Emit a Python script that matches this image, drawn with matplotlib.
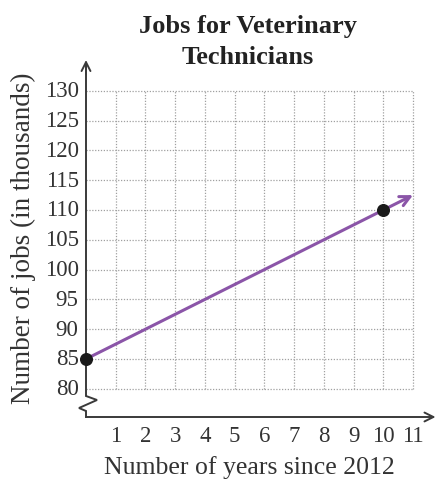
import matplotlib
matplotlib.use("Agg")
import matplotlib.pyplot as plt
import numpy as np

# data
years = [0, 10]
jobs = [85, 110]
line_end_year = 11
slope = (jobs[1] - jobs[0]) / (years[1] - years[0])
x_ticks = list(range(1, 12))
y_ticks = list(range(80, 131, 5))

plt.rcParams["font.family"] = ["Liberation Serif", "DejaVu Serif"]

W, H = 443, 481
fig = plt.figure(figsize=(W / 100, H / 100), dpi=100)
# axes placed in pixel space: x=0 at px 86, y-axis bottom at px 418
left, right, top, bottom = 86, 440, 60, 418
ax = fig.add_axes([left / W, 1 - bottom / H, (right - left) / W, (bottom - top) / H])
px_x = 29.73          # pixels per year
px_y = 29.8 / 5       # pixels per thousand
xmax = (right - left) / px_x
ymin = 85 - (bottom - 360) / px_y
ymax = 85 + (360 - top) / px_y
ax.set_xlim(0, xmax)
ax.set_ylim(ymin, ymax)
ax.axis("off")

grid_kw = dict(color="#a0a0a0", lw=0.9, ls=(0, (1, 1.3)), zorder=1)
for x in x_ticks:
    ax.plot([x, x], [y_ticks[0], y_ticks[-1]], **grid_kw)
for y in y_ticks:
    ax.plot([0, x_ticks[-1]], [y, y], **grid_kw)

axis_col = "#3a3a3a"
# y axis with break zigzag near the bottom
zx = np.array([86, 86, 97, 79, 86, 86])
zy = np.array([64, 397, 401, 409, 412, 418])
ax.plot((zx - left) / px_x, 85 - (zy - 360) / px_y, color=axis_col, lw=1.4,
        zorder=3, clip_on=False, solid_joinstyle="miter")
ax.annotate("", xy=(0, ymax + 0.3), xytext=(0, ymax - 3),
            arrowprops=dict(arrowstyle="->", color=axis_col, lw=1.4,
                            mutation_scale=16), annotation_clip=False)
# x axis
ax.annotate("", xy=(xmax - 0.15, ymin), xytext=(0, ymin),
            arrowprops=dict(arrowstyle="->", color=axis_col, lw=1.4,
                            mutation_scale=16, shrinkA=0, shrinkB=0),
            annotation_clip=False)

# trend line with arrow
purple = "#8b55a8"
ax.annotate("", xy=(line_end_year, jobs[0] + slope * line_end_year),
            xytext=(years[0], jobs[0]),
            arrowprops=dict(arrowstyle="->", color=purple, lw=2.2,
                            mutation_scale=18, shrinkA=0, shrinkB=0),
            zorder=4)
ax.scatter(years, jobs, s=70, color="#1a1a1a", zorder=5, clip_on=False)

for x in x_ticks:
    ax.text(x, ymin - 19 / px_y, str(x), ha="center", va="center", fontsize=16.5,
            color="#333333")
for y in y_ticks:
    ax.text(-0.25, y, str(y), ha="right", va="center", fontsize=16.5,
            color="#333333")

fig.text(249 / W, 1 - 468 / H, "Number of years since 2012", ha="center",
         va="center", fontsize=18.5, color="#333333")
fig.text(23 / W, 1 - 238 / H, "Number of jobs (in thousands)", ha="center",
         va="center", rotation=90, fontsize=19.5, color="#333333")
fig.text(248 / W, 1 - 42 / H, "Jobs for Veterinary\nTechnicians", ha="center",
         va="center", fontsize=19, fontweight="bold", color="#222222",
         linespacing=1.4)

fig.savefig("out.png", dpi=100)
